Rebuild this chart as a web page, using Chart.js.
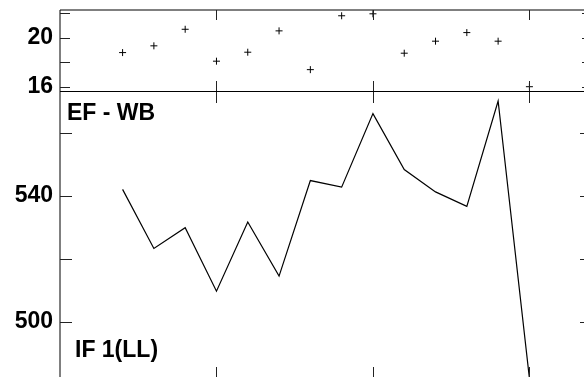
<!DOCTYPE html>
<html><head><meta charset="utf-8">
<script src="https://cdn.jsdelivr.net/npm/chart.js@4.4.1/dist/chart.umd.min.js"></script>
<style>
html,body{margin:0;padding:0;overflow:hidden;background:#fff;width:584px;height:377px}
#wrap{position:relative;width:584px;height:377px;overflow:hidden;background:#fff}
canvas{position:absolute;left:0;top:0}
</style></head><body>
<div id="wrap"><canvas id="bot" width="620" height="400"></canvas><canvas id="top" width="620" height="400"></canvas></div>
<script>
const xValues = [2, 3, 4, 5, 6, 7, 8, 9, 10, 11, 12, 13, 14, 15];
const topValues = [18.8, 19.35, 20.7, 18.1, 18.83, 20.57, 17.41, 21.8, 21.96, 18.75, 19.73, 20.43, 19.73, 16.02];
const bottomValues = [542.1, 523.3, 529.9, 509.7, 531.7, 514.5, 544.9, 542.8, 566.2, 548.4, 541.3, 536.7, 570.2, 482.0];
const xTickValues = [0, 5, 10, 15];
const topTickLabels = [16, 20];
const bottomTickLabels = [500, 540];
const panelLabelA = 'EF - WB';
const panelLabelB = 'IF 1(LL)';

const FONT = '"Liberation Sans", Arial, Helvetica, sans-serif';
const W = 620, H = 400;
const AREA_LEFT = 60, AREA_RIGHT = 592;
const TOP_Y0 = 10, SEP_Y = 91, BOT_Y1 = 379;

function seg(ctx, x1, y1, x2, y2) { ctx.beginPath(); ctx.moveTo(x1, y1); ctx.lineTo(x2, y2); ctx.stroke(); }

function panelPlugin(kind) {
  return {
    id: 'panel_' + kind,
    afterDraw(chart) {
      const { ctx, chartArea: a, scales: { x, y } } = chart;
      ctx.save();
      ctx.lineWidth = 1;
      ctx.strokeStyle = '#000';
      const tl = kind === 'top' ? 10 : 12;
      if (kind === 'top') {
        seg(ctx, a.left, a.top, a.right, a.top);
      }
      seg(ctx, a.left, a.top, a.left, a.bottom);
      seg(ctx, a.right, a.top, a.right, a.bottom);
      if (kind === 'top') {
        seg(ctx, a.left, a.bottom + 0.5, a.right, a.bottom + 0.5);
      } else {
        seg(ctx, a.left, a.bottom, a.right, a.bottom);
      }
      ctx.strokeStyle = '#222';
      y.ticks.forEach(t => {
        const py = Math.round(y.getPixelForValue(t.value)) + 0.5;
        seg(ctx, a.left, py, a.left + tl, py);
        seg(ctx, a.right, py, a.right - tl, py);
      });
      xTickValues.forEach(v => {
        const px = Math.round(x.getPixelForValue(v)) + 0.5;
        if (v === 0) return;
        seg(ctx, px, a.top, px, a.top + tl);
        seg(ctx, px, a.bottom, px, a.bottom - tl);
      });
      if (kind === 'bottom') {
        ctx.fillStyle = '#000';
        ctx.font = 'bold 23px ' + FONT;
        ctx.textAlign = 'left';
        ctx.textBaseline = 'alphabetic';
        ctx.fillText(panelLabelA, 67, 120);
        ctx.fillText(panelLabelB, 75, 357);
      }
      ctx.restore();
    }
  };
}

function yScale(min, max, step, labelled) {
  return {
    min, max,
    afterFit(s) { s.width = AREA_LEFT; s.paddingTop = 0; s.paddingBottom = 0; },
    grid: { display: false, drawTicks: false },
    border: { display: false },
    ticks: {
      stepSize: step, includeBounds: false, autoSkip: false, padding: 7,
      color: '#000',
      font: { family: FONT, size: 23, weight: 'bold' },
      callback: v => (labelled.some(l => Math.abs(l - v) < 1e-9) ? String(v) : '')
    }
  };
}

const common = {
  responsive: false, animation: false,
  plugins: { legend: { display: false }, tooltip: { enabled: false }, title: { display: false } }
};

new Chart(document.getElementById('top'), {
  type: 'scatter',
  data: {
    datasets: [{
      data: xValues.map((xv, i) => ({ x: xv, y: topValues[i] })),
      pointStyle: 'cross', pointRadius: 3.5, borderColor: '#000', backgroundColor: '#000', borderWidth: 1,
      showLine: false
    }]
  },
  options: Object.assign({}, common, {
    layout: { padding: { left: 0, right: W - AREA_RIGHT, top: TOP_Y0, bottom: H - SEP_Y } },
    scales: {
      x: { type: 'linear', min: 0, max: 17, display: false },
      y: yScale(15.67, 22.27, 2, topTickLabels)
    }
  }),
  plugins: [panelPlugin('top')]
});

new Chart(document.getElementById('bot'), {
  type: 'line',
  data: {
    datasets: [{
      data: xValues.map((xv, i) => ({ x: xv, y: bottomValues[i] })),
      borderColor: '#000', borderWidth: 1.2, pointRadius: 0, tension: 0, fill: false
    }]
  },
  options: Object.assign({}, common, {
    layout: { padding: { left: 0, right: W - AREA_RIGHT, top: SEP_Y, bottom: H - BOT_Y1 } },
    scales: {
      x: { type: 'linear', min: 0, max: 17, display: false },
      y: yScale(481.75, 573.4, 20, bottomTickLabels)
    }
  }),
  plugins: [panelPlugin('bottom')]
});
</script>
</body></html>
